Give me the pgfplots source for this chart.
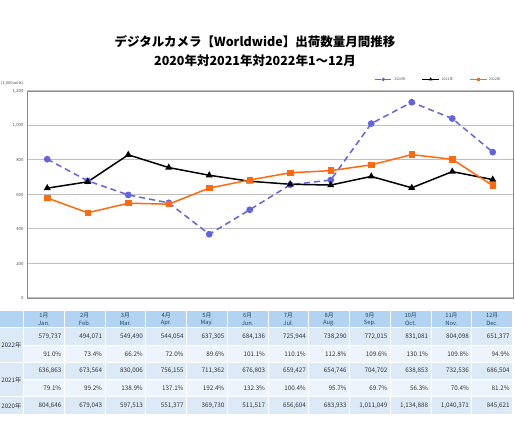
\documentclass[border=0pt]{standalone}
\usepackage{pgfplots}
\pgfplotsset{compat=1.18}
\usepackage{fontspec}
\setmainfont{Noto Sans CJK JP}
\definecolor{c20}{HTML}{6464DC}
\definecolor{c22}{HTML}{FF6A10}
\definecolor{hdr}{HTML}{B2D4F2}
\definecolor{vrow}{HTML}{DCEAF8}
\definecolor{prow}{HTML}{EDF4FC}
\definecolor{htext}{HTML}{22406A}
\definecolor{ttext}{HTML}{333333}
\begin{document}
\begin{tikzpicture}
\path[use as bounding box] (0pt,0pt) rectangle (515pt,442pt);
\begin{axis}[at={(27pt,144pt)}, anchor=south west, scale only axis,
  width=486pt, height=207pt,
  xmin=-0.5, xmax=11.5, ymin=0, ymax=1200,
  ytick={0,200,...,1200}, xtick=\empty,
  ymajorgrids, grid style={draw=black!25, line width=1pt},
  axis line style={draw=black!45, line width=0.8pt},
  major tick length=0,
  yticklabel style={font=\fontsize{4.3}{5}\selectfont, text=black!70},
  /pgf/number format/1000 sep={,},
  /pgf/number format/assume math mode=true,
  legend columns=3,
  legend style={at={(0.985,1.025)}, anchor=south east, draw=none, fill=none,
    font=\fontsize{3.5}{4}\selectfont, text=black!70,
    /tikz/every even column/.append style={column sep=14pt}},
  legend image post style={mark size=1.1pt, line width=1.1pt},
  clip=false]
\addplot[c20, dashed, dash pattern=on 6pt off 4pt, line width=1.5pt, mark=*, mark size=2.6pt, mark options={solid}]
 coordinates {(0,804.646)(1,679.043)(2,597.513)(3,551.377)(4,369.730)(5,511.517)(6,656.604)(7,683.933)(8,1011.049)(9,1134.888)(10,1040.371)(11,845.621)};
\addlegendentry{2020年}
\addplot[black, line width=1.5pt, mark=triangle*, mark size=2.6pt]
 coordinates {(0,636.863)(1,673.564)(2,830.006)(3,756.155)(4,711.362)(5,676.803)(6,659.427)(7,654.746)(8,704.702)(9,638.853)(10,732.536)(11,686.504)};
\addlegendentry{2021年}
\addplot[c22, line width=1.5pt, mark=square*, mark size=2.5pt]
 coordinates {(0,579.737)(1,494.071)(2,549.490)(3,544.054)(4,637.305)(5,684.136)(6,725.944)(7,738.290)(8,772.015)(9,831.081)(10,804.098)(11,651.377)};
\addlegendentry{2022年}
\end{axis}
\begin{scope}[x=1pt,y=1pt]
\node[font=\bfseries\fontsize{12.5}{14}\selectfont] at (255,400) {デジタルカメラ【Worldwide】出荷数量月間推移};
\node[font=\bfseries\fontsize{12.5}{14}\selectfont] at (255,381) {2020年対2021年対2022年1～12月};
\node[font=\fontsize{4}{5}\selectfont, anchor=west, text=black!70, inner sep=0] at (1,359) {(1,000units)};
% table background
\foreach \r/\c in {0/hdr,1/vrow,2/prow,3/vrow,4/prow,5/vrow} {
  \pgfmathsetmacro\yt{442-311-17.3*\r}
  \foreach \j in {0,...,11} {
    \pgfmathsetmacro\xl{24+40.75*\j}
    \fill[\c] (\xl,\yt) rectangle (\xl+39.75,\yt-16.3);
  }
}
\fill[hdr] (0,131) rectangle (23,114.7);
\fill[vrow] (0,113.7) rectangle (23,80.1);
\fill[vrow] (0,79.1) rectangle (23,45.5);
\fill[vrow] (0,44.5) rectangle (23,28.2);
\tikzset{lab/.style={font=\fontsize{6.2}{7}\selectfont, anchor=east, text=ttext, inner sep=0},
         val/.style={font=\fontsize{6.3}{7}\selectfont, text=ttext, anchor=east, inner sep=0},
         hd/.style={font=\fontsize{5.8}{7}\selectfont, text=htext, inner sep=0}}
\node[lab] at (21.5,97) {2022年};
\node[lab] at (21.5,62.3) {2021年};
\node[lab] at (21.5,36.3) {2020年};
% header
\foreach \m/\e [count=\j from 0] in {1月/Jan.,2月/Feb.,3月/Mar.,4月/Apr.,5月/May.,6月/Jun.,7月/Jul.,8月/Aug.,9月/Sep.,10月/Oct.,11月/Nov.,12月/Dec.} {
  \pgfmathsetmacro\xc{24+40.75*\j+19.9}
  \node[hd] at (\xc,126.6) {\m};
  \node[hd] at (\xc,118.8) {\e};
}
\foreach \v [count=\j from 0] in {{579,737},{494,071},{549,490},{544,054},{637,305},{684,136},{725,944},{738,290},{772,015},{831,081},{804,098},{651,377}} {
  \pgfmathsetmacro\xr{24+40.75*\j+37.5}
  \node[val] at (\xr,105.5) {\v};
}
\foreach \v [count=\j from 0] in {91.0,73.4,66.2,72.0,89.6,101.1,110.1,112.8,109.6,130.1,109.8,94.9} {
  \pgfmathsetmacro\xr{24+40.75*\j+37.5}
  \node[val] at (\xr,88.2) {\v\%};
}
\foreach \v [count=\j from 0] in {{636,863},{673,564},{830,006},{756,155},{711,362},{676,803},{659,427},{654,746},{704,702},{638,853},{732,536},{686,504}} {
  \pgfmathsetmacro\xr{24+40.75*\j+37.5}
  \node[val] at (\xr,70.9) {\v};
}
\foreach \v [count=\j from 0] in {79.1,99.2,138.9,137.1,192.4,132.3,100.4,95.7,69.7,56.3,70.4,81.2} {
  \pgfmathsetmacro\xr{24+40.75*\j+37.5}
  \node[val] at (\xr,53.6) {\v\%};
}
\foreach \v [count=\j from 0] in {{804,646},{679,043},{597,513},{551,377},{369,730},{511,517},{656,604},{683,933},{1,011,049},{1,134,888},{1,040,371},{845,621}} {
  \pgfmathsetmacro\xr{24+40.75*\j+37.5}
  \node[val] at (\xr,36.3) {\v};
}
\end{scope}
\end{tikzpicture}
\end{document}
